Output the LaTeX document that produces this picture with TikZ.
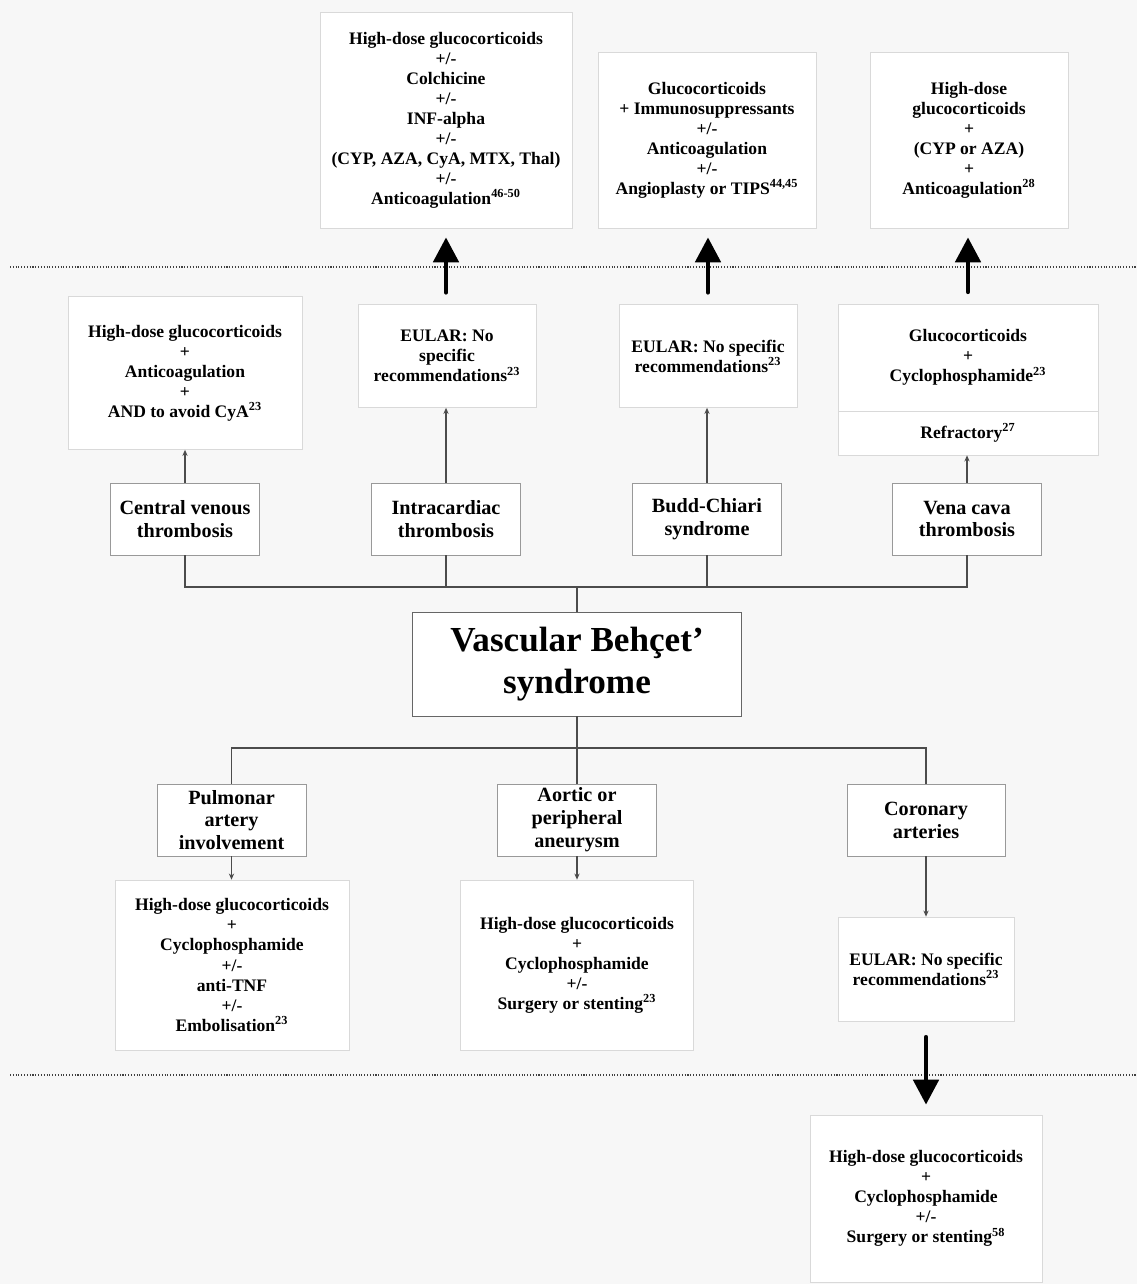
\documentclass[tikz,border=0pt]{standalone}
\usepackage{fontspec}
\setmainfont{Liberation Serif}
\usetikzlibrary{arrows.meta}

\tikzset{
  treat/.style={draw=black!15, fill=white, align=center, inner sep=0pt,
    font=\fontsize{10}{11.4}\selectfont\bfseries},
  cond/.style={draw=black!40, fill=white, align=center, inner sep=0pt,
    minimum width=2.98cm, minimum height=1.44cm,
    font=\fontsize{11.5}{13}\selectfont\bfseries},
  mainbox/.style={draw=black!60, fill=white, align=center,
    minimum width=6.58cm, minimum height=2.08cm,
    font=\fontsize{20}{24}\selectfont\bfseries},
  link/.style={draw=black!70, line width=0.9pt},
  thinarrow/.style={black!70, line width=0.6pt, -{Stealth[length=3.5pt,width=3pt]}},
  bigarrow/.style={line width=2.8pt, line cap=round, -{Triangle[length=0.5cm,width=0.5cm]}},
  sep/.style={black!75, densely dotted, line width=0.6pt}
}

\begin{document}
\begin{tikzpicture}[x=0.02cm, y=-0.02cm]
        \fill[black!3] (0,0) rectangle (1137,1284);
        \useasboundingbox (0,0) rectangle (1137,1284);
        % Separators
        \draw[sep] (10,267) -- (1137,267);
        \draw[sep] (10,1075) -- (1137,1075);
        % Top row: second-line treatments
        \node[treat, minimum width=5.04cm, minimum height=4.32cm] (topA) at (446,120)
          {High-dose glucocorticoids\\+/-\\Colchicine\\+/-\\INF-alpha\\+/-\\(CYP, AZA, CyA, MTX, Thal)\\+/-\\Anticoagulation\textsuperscript{46-50}};
        \node[treat, minimum width=4.36cm, minimum height=3.52cm] (topB) at (707,140)
          {Glucocorticoids\\+ Immunosuppressants\\+/-\\Anticoagulation\\+/-\\Angioplasty or TIPS\textsuperscript{44,45}};
        \node[treat, minimum width=3.96cm, minimum height=3.52cm] (topC) at (969,140)
          {High-dose\\glucocorticoids\\+\\(CYP or AZA)\\+\\Anticoagulation\textsuperscript{28}};
        % Second row: first-line treatments
        \node[treat, minimum width=4.68cm, minimum height=3.06cm] (cvtTx) at (185,373)
          {High-dose glucocorticoids\\+\\Anticoagulation\\+\\AND to avoid CyA\textsuperscript{23}};
        \node[treat, minimum width=3.56cm, minimum height=2.06cm] (ictTx) at (447,356)
          {EULAR: No\\specific\\recommendations\textsuperscript{23}};
        \node[treat, minimum width=3.56cm, minimum height=2.06cm] (bcsTx) at (708,356)
          {EULAR: No specific\\recommendations\textsuperscript{23}};
        \node[treat, minimum width=5.2cm, minimum height=2.14cm] (vctTx) at (968,357.5)
          {Glucocorticoids\\+\\Cyclophosphamide\textsuperscript{23}};
        \node[treat, minimum width=5.2cm, minimum height=0.88cm] (vctRef) at (968,433)
          {Refractory\textsuperscript{27}};
        % Venous involvement
        \node[cond] (cvt) at (185,519) {Central venous\\thrombosis};
        \node[cond] (ict) at (446,519) {Intracardiac\\thrombosis};
        \node[cond] (bcs) at (707,519) {Budd-Chiari\\syndrome};
        \node[cond] (vct) at (967,519) {Vena cava\\thrombosis};
        % Main box
        \node[mainbox] (vbs) at (577,664) {Vascular Behçet’\\syndrome};
        \coordinate (busUp) at (577,587);
        \coordinate (busDown) at (577,748);
        % Arterial involvement
        \node[cond] (pul) at (231.5,820) {Pulmonar\\artery\\involvement};
        \node[cond, minimum width=3.18cm] (aor) at (577,820) {Aortic or\\peripheral\\aneurysm};
        \node[cond, minimum width=3.16cm] (cor) at (926,820) {Coronary\\arteries};
        % Arterial treatments
        \node[treat, minimum width=4.68cm, minimum height=3.4cm] (pulTx) at (232,965)
          {High-dose glucocorticoids\\+\\Cyclophosphamide\\+/-\\anti-TNF\\+/-\\Embolisation\textsuperscript{23}};
        \node[treat, minimum width=4.66cm, minimum height=3.4cm] (aorTx) at (577,965)
          {High-dose glucocorticoids\\+\\Cyclophosphamide\\+/-\\Surgery or stenting\textsuperscript{23}};
        \node[treat, minimum width=3.52cm, minimum height=2.08cm] (corTx) at (926,969)
          {EULAR: No specific\\recommendations\textsuperscript{23}};
        \node[treat, minimum width=4.64cm, minimum height=3.34cm] (corNext) at (926,1198.5)
          {High-dose glucocorticoids\\+\\Cyclophosphamide\\+/-\\Surgery or stenting\textsuperscript{58}};
        % Tree above the main box
        \draw[link] (vbs.north) -- (busUp);
        \draw[link] (cvt.south) -- (cvt.south |- busUp) -- (vct.south |- busUp) -- (vct.south);
        \draw[link] (ict.south) -- (ict.south |- busUp);
        \draw[link] (bcs.south) -- (bcs.south |- busUp);
        % Tree below the main box
        \draw[link] (vbs.south) -- (aor.north);
        \draw[link] (pul.north) -- (pul.north |- busDown) -- (cor.north |- busDown) -- (cor.north);
        % Thin arrows
        \draw[thinarrow] (cvt.north) -- (cvtTx.south);
        \draw[thinarrow] (ict.north) -- (ict.north |- ictTx.south);
        \draw[thinarrow] (bcs.north) -- (bcs.north |- bcsTx.south);
        \draw[thinarrow] (vct.north) -- (vct.north |- vctRef.south);
        \draw[thinarrow] (pul.south) -- (pul.south |- pulTx.north);
        \draw[thinarrow] (aor.south) -- (aorTx.north);
        \draw[thinarrow] (cor.south) -- (corTx.north);
        % Thick arrows
        \draw[bigarrow, shorten <=12*0.02cm, shorten >=9*0.02cm] (ict.north |- ictTx.north) -- (ict.north |- topA.south);
        \draw[bigarrow, shorten <=12*0.02cm, shorten >=9*0.02cm] (bcsTx.north) -- (bcsTx.north |- topB.south);
        \draw[bigarrow, shorten <=12*0.02cm, shorten >=9*0.02cm] (vctTx.north) -- (vctTx.north |- topC.south);
        \draw[bigarrow, shorten <=16*0.02cm, shorten >=10*0.02cm] (corTx.south) -- (corNext.north);
    \end{tikzpicture}
\end{document}
